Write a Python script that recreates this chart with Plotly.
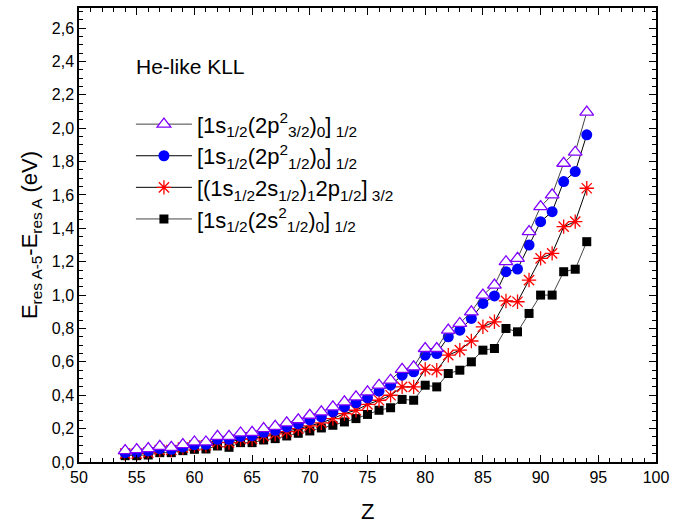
import plotly.graph_objects as go

Z = list(range(54, 95))

tri = [0.068, 0.074, 0.080, 0.094, 0.088, 0.104, 0.120, 0.120, 0.154, 0.154,
       0.174, 0.178, 0.200, 0.214, 0.234, 0.253, 0.280, 0.300, 0.330, 0.360,
       0.390, 0.420, 0.460, 0.490, 0.555, 0.570, 0.680, 0.680, 0.790, 0.830,
       0.900, 1.000, 1.060, 1.200, 1.220, 1.380, 1.530, 1.600, 1.790, 1.856, 2.096]
circ = [0.056, 0.060, 0.066, 0.080, 0.076, 0.090, 0.104, 0.106, 0.136, 0.136,
        0.154, 0.158, 0.178, 0.190, 0.210, 0.228, 0.252, 0.270, 0.300, 0.330,
        0.355, 0.385, 0.425, 0.460, 0.520, 0.540, 0.640, 0.650, 0.750, 0.790,
        0.860, 0.950, 0.995, 1.140, 1.156, 1.300, 1.440, 1.500, 1.680, 1.740, 1.960]
star = [0.050, 0.050, 0.056, 0.072, 0.072, 0.086, 0.098, 0.100, 0.118, 0.116,
        0.138, 0.138, 0.156, 0.168, 0.182, 0.200, 0.217, 0.235, 0.260, 0.290,
        0.310, 0.345, 0.370, 0.400, 0.450, 0.450, 0.555, 0.550, 0.640, 0.670,
        0.725, 0.810, 0.840, 0.965, 0.960, 1.090, 1.220, 1.250, 1.410, 1.440, 1.640]
sq = [0.038, 0.038, 0.042, 0.056, 0.056, 0.068, 0.076, 0.078, 0.096, 0.088,
      0.116, 0.116, 0.132, 0.140, 0.156, 0.172, 0.186, 0.204, 0.220, 0.240,
      0.260, 0.285, 0.310, 0.325, 0.375, 0.370, 0.460, 0.450, 0.530, 0.550,
      0.600, 0.670, 0.680, 0.800, 0.780, 0.890, 1.000, 1.000, 1.140, 1.155, 1.320]

names = {
    "tri": "[1s<sub>1/2</sub>(2p<sup>2</sup><sub>3/2</sub>)<sub>0</sub>]<sub> 1/2</sub>",
    "circ": "[1s<sub>1/2</sub>(2p<sup>2</sup><sub>1/2</sub>)<sub>0</sub>]<sub> 1/2</sub>",
    "star": "[(1s<sub>1/2</sub>2s<sub>1/2</sub>)<sub>1</sub>2p<sub>1/2</sub>]<sub> 3/2</sub>",
    "sq": "[1s<sub>1/2</sub>(2s<sup>2</sup><sub>1/2</sub>)<sub>0</sub>]<sub> 1/2</sub>",
}

FONT = "Liberation Sans, Arial"

fig = go.Figure()
fig.add_trace(go.Scatter(x=Z, y=sq, name=names["sq"], mode="lines+markers",
                         line=dict(color="#444444", width=1),
                         marker=dict(symbol="square", size=9, color="black")))
fig.add_trace(go.Scatter(x=Z, y=star, name=names["star"], mode="lines+markers",
                         line=dict(color="black", width=1),
                         marker=dict(symbol="asterisk-open", size=12, color="red",
                                     line=dict(color="red", width=1.3))))
fig.add_trace(go.Scatter(x=Z, y=circ, name=names["circ"], mode="lines+markers",
                         line=dict(color="black", width=1),
                         marker=dict(symbol="circle", size=11, color="#0000ff")))
fig.add_trace(go.Scatter(x=Z, y=tri, name=names["tri"], mode="lines+markers",
                         line=dict(color="#444444", width=1),
                         marker=dict(symbol="triangle-up", size=12, color="white",
                                     line=dict(color="#8000ff", width=1.3))))

axis_common = dict(showline=True, linecolor="black", linewidth=1.5, mirror="ticks",
                   ticks="inside", tickcolor="black", showgrid=False, zeroline=False,
                   automargin=False,
                   tickfont=dict(family=FONT, size=16, color="black"))

fig.update_xaxes(range=[50, 100], dtick=5, tick0=50, ticklen=7, tickwidth=1,
                 minor=dict(dtick=1, ticklen=4, ticks="inside", tickcolor="black"),
                 **axis_common)
fig.update_yaxes(range=[0, 2.72], dtick=0.2, tick0=0, ticklen=7, tickwidth=1, tickformat=".1f",
                 minor=dict(dtick=0.05, ticklen=4, ticks="inside", tickcolor="black"),
                 title=dict(text="E<sub>res A-5</sub>-E<sub>res A</sub> (eV)",
                            font=dict(family=FONT, size=22, color="black"),
                            standoff=8),
                 **axis_common)

fig.add_annotation(text="Z", xref="paper", yref="paper", x=0.5, y=-0.11,
                   xanchor="center", yanchor="middle", showarrow=False,
                   font=dict(family=FONT, size=22, color="black"))
fig.add_annotation(text="He-like KLL", xref="paper", yref="paper", x=0.095, y=0.872,
                   xanchor="left", yanchor="middle", showarrow=False,
                   font=dict(family=FONT, size=21, color="black"))

fig.update_layout(
    width=673, height=527,
    margin=dict(l=79, r=17, t=8, b=65),
    paper_bgcolor="white", plot_bgcolor="white",
    separators=",.",
    showlegend=True,
    legend=dict(x=0.09, y=0.79, xanchor="left", yanchor="top",
                traceorder="reversed", bgcolor="rgba(0,0,0,0)",
                font=dict(family=FONT, size=22, color="black"),
                itemwidth=56, tracegroupgap=0),
)

fig.write_html("out.html")
